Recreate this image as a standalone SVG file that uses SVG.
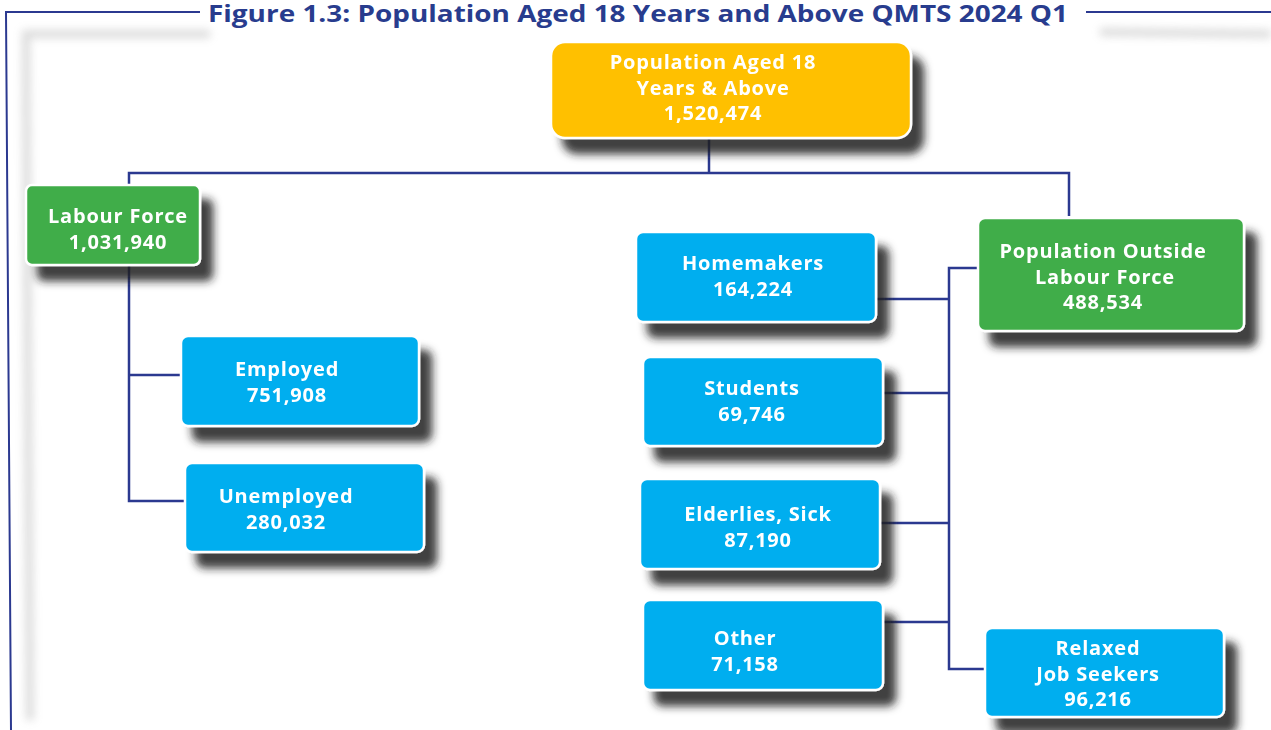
<svg xmlns="http://www.w3.org/2000/svg" width="1271" height="730" viewBox="0 0 1271 730">
<defs>
<filter id="sh" x="-20%" y="-20%" width="150%" height="160%">
<feDropShadow dx="12" dy="15" stdDeviation="4" flood-color="#1a1a1a" flood-opacity="0.85"/>
</filter>
<filter id="blur" x="-10%" y="-50%" width="120%" height="200%">
<feGaussianBlur stdDeviation="4"/>
</filter>
<style>
.t{font-family:"Open Sans","Liberation Sans",sans-serif;font-weight:700;font-size:20px;letter-spacing:0.8px;fill:#ffffff;text-anchor:middle}
.title{font-family:"Open Sans","Liberation Sans",sans-serif;font-weight:700;font-size:23px;fill:#283c8e}
.frame{fill:none;stroke:#2b3990;stroke-width:2}
.c{fill:none;stroke:#2b3990;stroke-width:2.5}
.y{fill:#ffc000;stroke:#ffffff;stroke-width:2.5}
.g{fill:#41ad49;stroke:#ffffff;stroke-width:2.5}
.b{fill:#00aeef;stroke:#ffffff;stroke-width:2.5}
</style>
</defs>
<rect width="1271" height="730" fill="#ffffff"/>
<g id="frame-shadow" opacity="0.35" filter="url(#blur)">
<path d="M30 720 L26 34 L210 34" fill="none" stroke="#9a9a9a" stroke-width="8"/>
<path d="M1100 32 L1271 34" fill="none" stroke="#9a9a9a" stroke-width="8"/>
</g>
<g id="frame">
<path class="frame" d="M200 12 L6 12 L11 730"/>
<path class="frame" d="M1086 12 L1271 12"/>
<text class="title" x="208" y="22" textLength="860" lengthAdjust="spacingAndGlyphs">Figure 1.3: Population Aged 18 Years and Above QMTS 2024 Q1</text>
</g>
<g id="connectors">
<path class="c" d="M709 138 V173 M129 185 V173 H1069 V216"/>
<path class="c" d="M129 265 V501 H185 M129 375 H181"/>
<path class="c" d="M978 268 H949 V669 H985 M876 299 H949 M883 393 H949 M880 523 H949 M883 622 H949"/>
</g>
<g id="node-total" filter="url(#sh)">
<rect class="y" x="551" y="42" width="360" height="96" rx="14"/>
<text class="t" x="713" y="69">Population Aged 18</text>
<text class="t" x="713" y="95">Years &amp; Above</text>
<text class="t" x="713" y="120">1,520,474</text>
</g>
<g id="node-labour" filter="url(#sh)">
<rect class="g" x="26" y="185" width="174" height="80" rx="6"/>
<text class="t" x="118" y="223">Labour Force</text>
<text class="t" x="118" y="249">1,031,940</text>
</g>
<g id="node-outside" filter="url(#sh)">
<rect class="g" x="978" y="218" width="266" height="113" rx="7"/>
<text class="t" x="1103" y="258">Population Outside</text>
<text class="t" x="1105" y="284">Labour Force</text>
<text class="t" x="1103" y="309">488,534</text>
</g>
<g id="node-employed" filter="url(#sh)">
<rect class="b" x="181" y="336" width="238" height="90" rx="7"/>
<text class="t" x="287" y="376">Employed</text>
<text class="t" x="287" y="402">751,908</text>
</g>
<g id="node-unemployed" filter="url(#sh)">
<rect class="b" x="185" y="463" width="239" height="89" rx="7"/>
<text class="t" x="286" y="503">Unemployed</text>
<text class="t" x="286" y="529">280,032</text>
</g>
<g id="node-homemakers" filter="url(#sh)">
<rect class="b" x="636" y="232" width="240" height="90" rx="7"/>
<text class="t" x="753" y="270">Homemakers</text>
<text class="t" x="753" y="296">164,224</text>
</g>
<g id="node-students" filter="url(#sh)">
<rect class="b" x="643" y="357" width="240" height="89" rx="7"/>
<text class="t" x="752" y="395">Students</text>
<text class="t" x="752" y="421">69,746</text>
</g>
<g id="node-elderlies" filter="url(#sh)">
<rect class="b" x="640" y="479" width="240" height="90" rx="7"/>
<text class="t" x="758" y="521">Elderlies, Sick</text>
<text class="t" x="758" y="547">87,190</text>
</g>
<g id="node-other" filter="url(#sh)">
<rect class="b" x="643" y="600" width="240" height="90" rx="7"/>
<text class="t" x="745" y="645">Other</text>
<text class="t" x="745" y="671">71,158</text>
</g>
<g id="node-relaxed" filter="url(#sh)">
<rect class="b" x="985" y="628" width="239" height="89" rx="7"/>
<text class="t" x="1098" y="655">Relaxed</text>
<text class="t" x="1098" y="681">Job Seekers</text>
<text class="t" x="1098" y="706">96,216</text>
</g>
</svg>
